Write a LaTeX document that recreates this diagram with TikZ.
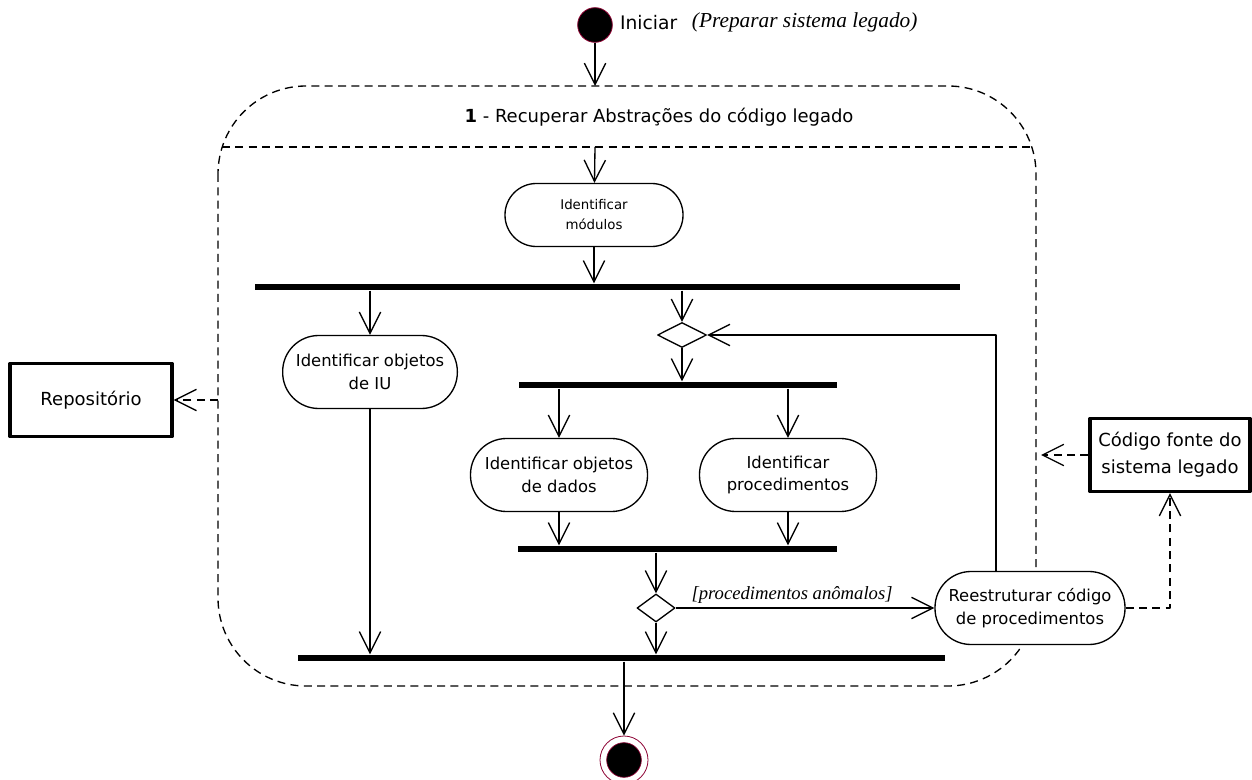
\documentclass[tikz,border=0pt]{standalone}
\usepackage{fontspec}
\setmainfont{DejaVu Sans}
\newfontfamily\guardfont{Liberation Serif}
\usetikzlibrary{arrows.meta,shapes.geometric,positioning}
\definecolor{umlred}{RGB}{140,0,50}

\tikzset{
	activity/.style={draw, fill=white, line width=1pt, rounded corners=27pt,
		minimum width=132.75pt, minimum height=54.75pt, inner sep=2pt,
		align=center, font=\fontsize{12.3}{17}\selectfont},
	smallactivity/.style={activity, rounded corners=23.5pt, minimum width=133.5pt,
		minimum height=47.25pt, font=\fontsize{10}{15}\selectfont},
	objbox/.style={draw, line width=2.5pt, minimum height=54.75pt, inner sep=2pt,
		align=center, font=\fontsize{13.5}{20}\selectfont},
	syncbar/.style={fill=black, inner sep=0pt, minimum height=5pt},
	choice/.style={diamond, draw, fill=white, line width=1pt, inner sep=0pt},
	flow/.style={draw, line width=1pt, ->},
	dep/.style={draw, line width=1pt, dash pattern=on 6pt off 4pt, ->},
	frame/.style={line width=1pt, dash pattern=on 6pt off 4pt},
	guard/.style={font=\guardfont\itshape\fontsize{14}{16}\selectfont, inner sep=3pt}
}

\begin{document}
\begin{tikzpicture}[x=0.75pt, y=-0.75pt, line join=round, >={Straight Barb[length=16pt,width=16pt]}]
	% Bounding box: picture size in px
	\useasboundingbox (0,0) rectangle (1252,780);
	
	% Outer activity frame with title compartment
	\draw[frame, rounded corners=66pt] (218,86) rectangle (1036,686);
	\draw[frame] (222,147) -- (1032,147);
	\node[font=\fontsize{13.5}{16}\selectfont] (title) at (659,117)
	{\textbf{1} - Recuperar Abstrações do código legado};
	\coordinate (frametop) at (595,86);
	\coordinate (divtop) at (595,147);
	\coordinate (frameleft) at (218,400);
	\coordinate (frameright) at (1041,455);
	
	% Initial state
	\node[circle, fill=black, draw=umlred, line width=0.6pt, minimum size=26pt, inner sep=0pt] (start) at (595,25) {};
	\node[right=2pt of start, yshift=2pt, font=\fontsize{14}{16}\selectfont] (startlbl) {Iniciar};
	\node[right=4pt of startlbl, font=\guardfont\itshape\fontsize{16}{18}\selectfont] (startnote) {(Preparar sistema legado)};
	
	% Activities and synchronisation bars
	\node[smallactivity] (modulos) at (594,215) {Identificar\\módulos};
	\node[syncbar, minimum width=528.75pt] (fork1) at (607.5,287) {};
	\node[activity, minimum width=131pt] (objiu) at (370,372) {Identificar objetos\\de IU};
	\node[choice, minimum width=36.75pt, minimum height=18.75pt] (merge) at (682,335) {};
	\node[syncbar, minimum width=239pt] (fork2) at (678,385) {};
	\node[activity] (objdados) at (559,475) {Identificar objetos\\de dados};
	\node[activity] (proced) at (788,475) {Identificar\\procedimentos};
	\node[syncbar, minimum width=239pt] (join2) at (677.5,549) {};
	\node[choice, minimum width=28.5pt, minimum height=21pt] (decisao) at (656,608) {};
	\node[activity, minimum width=142.5pt] (reestr) at (1030,608) {Reestruturar código\\de procedimentos};
	\node[syncbar, minimum width=485pt] (join1) at (621.5,658) {};
	
	% Final state
	\node[circle, draw=umlred, line width=0.6pt, minimum size=36pt, inner sep=0pt,
	path picture={\fill[black, draw=umlred, line width=0.5pt] (path picture bounding box.center) circle (13pt);}]
	(stop) at (624,760) {};
	
	% Object nodes
	\node[objbox, minimum width=121.5pt] (repo) at (91,400) {Repositório};
	\node[objbox, minimum width=120pt] (codigo) at (1170,455) {Código fonte do\\sistema legado};
	
	% Control flow
	\draw[flow] (start) -- (frametop);
	\draw[flow] (divtop) -- (modulos);
	\draw[flow] (modulos) -- (modulos |- fork1.north);
	\draw[flow] (objiu |- fork1.south) -- (objiu);
	\draw[flow] (objiu) -- (objiu |- join1.north);
	\draw[flow] (merge |- fork1.south) -- (merge);
	\draw[flow] (merge) -- (merge |- fork2.north);
	\draw[flow] (objdados |- fork2.south) -- (objdados);
	\draw[flow] (proced |- fork2.south) -- (proced);
	\draw[flow] (objdados) -- (objdados |- join2.north);
	\draw[flow] (proced) -- (proced |- join2.north);
	\draw[flow] (decisao |- join2.south) -- (decisao);
	\draw[flow] (decisao) -- (decisao |- join1.north);
	\draw[flow] (decisao) -- node[above, guard, pos=0.45] {[procedimentos anômalos]} (reestr);
	\draw[flow] ([xshift=-25.5pt]reestr.north) |- (merge);
	\draw[flow] (stop |- join1.south) -- (stop);
	
	% Object flow
	\draw[dep] (frameleft) -- (repo);
	\draw[dep] (codigo) -- (frameright);
	\draw[dep] (reestr) -| (codigo);
\end{tikzpicture}
\end{document}
